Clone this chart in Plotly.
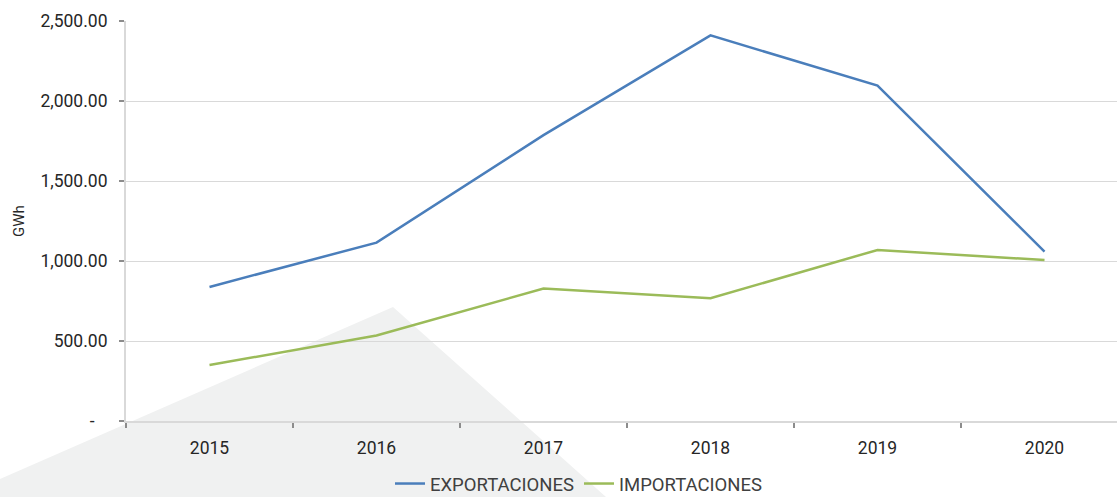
import plotly.graph_objects as go

years = ["2015", "2016", "2017", "2018", "2019", "2020"]
exportaciones = [838, 1115, 1787, 2410, 2096, 1058]
importaciones = [350, 534, 828, 767, 1069, 1006]
y_tickvals = [0, 500, 1000, 1500, 2000, 2500]
y_ticktext = ["-\u00a0\u00a0\u00a0", "500.00", "1,000.00", "1,500.00", "2,000.00", "2,500.00"]

W, H = 1117, 497
ML, MR, MT, MB = 126, 0, 21, 76
pw, ph = W - ML - MR, H - MT - MB

def px(x, y):
    return (x - ML) / pw, (H - MB - y) / ph

pts = [px(x, y) for x, y in [(0, 497), (0, 479), (393, 307), (606, 497)]]
path = "M " + " L ".join(f"{a:.5f},{b:.5f}" for a, b in pts) + " Z"

fig = go.Figure()
fig.add_trace(go.Scatter(x=years, y=exportaciones, mode="lines", name="EXPORTACIONES",
                         line=dict(color="#4a7ebb", width=2.5)))
fig.add_trace(go.Scatter(x=years, y=importaciones, mode="lines", name="IMPORTACIONES",
                         line=dict(color="#9bbb59", width=2.5)))

fig.add_shape(type="path", path=path, xref="paper", yref="paper", layer="below",
              fillcolor="#f0f1f1", line=dict(width=0))

lx, ly = px(579, 484)

fig.update_layout(
    width=W, height=H,
    margin=dict(l=ML, r=MR, t=MT, b=MB, autoexpand=False),
    paper_bgcolor="white",
    plot_bgcolor="rgba(0,0,0,0)",
    font=dict(family="Roboto", size=17, color="#262626"),
    showlegend=True,
    legend=dict(orientation="h", x=lx, y=ly,
                xanchor="center", yanchor="middle", font=dict(size=18.5, color="#404040"),
                bgcolor="rgba(0,0,0,0)", itemwidth=30, tracegroupgap=0),
    xaxis=dict(type="category", range=[-0.5, 5.434], showgrid=False, automargin=False,
               showline=True, linecolor="#d9d9d9", linewidth=2,
               ticks="outside", tickson="boundaries", ticklen=5, tickcolor="#8c8c8c", tickwidth=1.5,
               tickfont=dict(size=17.5, color="#262626"), ticklabelstandoff=10),
    yaxis=dict(range=[0, 2500], tickvals=y_tickvals, ticktext=y_ticktext, automargin=False,
               showgrid=True, gridcolor="#d9d9d9", gridwidth=1,
               showline=True, linecolor="#d9d9d9", linewidth=2,
               ticks="outside", ticklen=5, tickcolor="#8c8c8c", tickwidth=1.5,
               tickfont=dict(size=17.5, color="#262626"), ticklabelstandoff=8,
               zeroline=False,
               title=dict(text="GWh", font=dict(size=15, color="#262626"), standoff=12)),
)

fig.write_html("out.html", config={"displayModeBar": False},
               post_script="document.body.style.margin='0';document.body.style.overflow='hidden';")
